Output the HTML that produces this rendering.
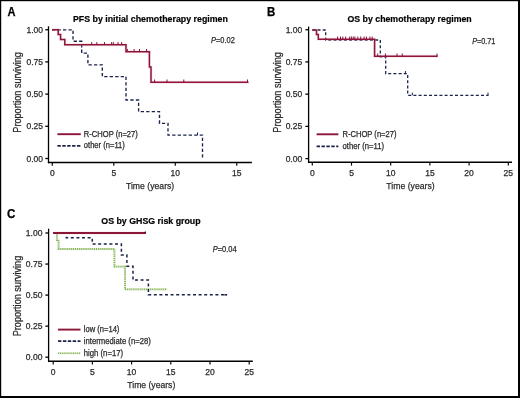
<!DOCTYPE html><html><head><meta charset="utf-8"><style>html,body{margin:0;padding:0;background:#fff;}svg{display:block;font-family:"Liberation Sans",sans-serif;}</style></head><body>
<svg width="520" height="398" viewBox="0 0 520 398">
<defs><filter id="soft" x="0" y="0" width="1" height="1"><feGaussianBlur stdDeviation="0.3"/></filter></defs>
<rect x="0" y="0" width="520" height="398" fill="#fff"/>
<g filter="url(#soft)">
<rect x="0" y="0" width="520" height="398" fill="#fff"/>
<line x1="48.5" y1="26.3" x2="48.5" y2="163.2" stroke="#000" stroke-width="1.3"/>
<line x1="47.9" y1="162.4" x2="251.9" y2="162.4" stroke="#000" stroke-width="1.5"/>
<line x1="45.3" y1="29.7" x2="48.5" y2="29.7" stroke="#000" stroke-width="1.3"/>
<text x="43" y="32.7" font-size="8.5" text-anchor="end" fill="#2a2a2a" stroke="#2a2a2a" stroke-width="0.25">1.00</text>
<line x1="45.3" y1="61.9" x2="48.5" y2="61.9" stroke="#000" stroke-width="1.3"/>
<text x="43" y="64.9" font-size="8.5" text-anchor="end" fill="#2a2a2a" stroke="#2a2a2a" stroke-width="0.25">0.75</text>
<line x1="45.3" y1="94.1" x2="48.5" y2="94.1" stroke="#000" stroke-width="1.3"/>
<text x="43" y="97.1" font-size="8.5" text-anchor="end" fill="#2a2a2a" stroke="#2a2a2a" stroke-width="0.25">0.50</text>
<line x1="45.3" y1="126.3" x2="48.5" y2="126.3" stroke="#000" stroke-width="1.3"/>
<text x="43" y="129.3" font-size="8.5" text-anchor="end" fill="#2a2a2a" stroke="#2a2a2a" stroke-width="0.25">0.25</text>
<line x1="45.3" y1="158.5" x2="48.5" y2="158.5" stroke="#000" stroke-width="1.3"/>
<text x="43" y="161.5" font-size="8.5" text-anchor="end" fill="#2a2a2a" stroke="#2a2a2a" stroke-width="0.25">0.00</text>
<line x1="52.3" y1="162.4" x2="52.3" y2="165.7" stroke="#000" stroke-width="1.15"/>
<text x="52.3" y="176" font-size="8.5" text-anchor="middle" fill="#2a2a2a" stroke="#2a2a2a" stroke-width="0.25">0</text>
<line x1="113.8" y1="162.4" x2="113.8" y2="165.7" stroke="#000" stroke-width="1.15"/>
<text x="113.8" y="176" font-size="8.5" text-anchor="middle" fill="#2a2a2a" stroke="#2a2a2a" stroke-width="0.25">5</text>
<line x1="175.3" y1="162.4" x2="175.3" y2="165.7" stroke="#000" stroke-width="1.15"/>
<text x="175.3" y="176" font-size="8.5" text-anchor="middle" fill="#2a2a2a" stroke="#2a2a2a" stroke-width="0.25">10</text>
<line x1="236.8" y1="162.4" x2="236.8" y2="165.7" stroke="#000" stroke-width="1.15"/>
<text x="236.8" y="176" font-size="8.5" text-anchor="middle" fill="#2a2a2a" stroke="#2a2a2a" stroke-width="0.25">15</text>
<text x="150.1" y="189.2" font-size="9.9" text-anchor="middle" fill="#2a2a2a" textLength="48.3" lengthAdjust="spacingAndGlyphs" stroke="#2a2a2a" stroke-width="0.25">Time (years)</text>
<text x="0" y="0" font-size="10.2" text-anchor="middle" fill="#2a2a2a" stroke="#2a2a2a" stroke-width="0.25" textLength="80.5" lengthAdjust="spacingAndGlyphs" transform="translate(20.5,92.4) rotate(-90)">Proportion surviving</text>
<text x="72.9" y="21.7" font-size="9.5" text-anchor="start" font-weight="bold" fill="#000" textLength="155" lengthAdjust="spacingAndGlyphs" stroke="#000" stroke-width="0.2">PFS by initial chemotherapy regimen</text>
<text x="7.6" y="15.6" font-size="12" text-anchor="start" font-weight="bold" fill="#000" textLength="8" lengthAdjust="spacingAndGlyphs" stroke="#000" stroke-width="0.25">A</text>
<text x="211" y="42.9" font-size="8.3" fill="#2a2a2a" stroke="#2a2a2a" stroke-width="0.25" textLength="23.8" lengthAdjust="spacingAndGlyphs"><tspan font-style="italic">P</tspan>=0.02</text>
<path d="M52,29.8 H73 V41.2 H81.7 V53.1 H87.9 V64.8 H102.3 V76.6 H126 V100 H138.6 V111.6 H159.5 V123.4 H168 V135.1 H202.5 V158.5" fill="none" stroke="#1a2448" stroke-width="1.35" stroke-dasharray="3.3 2.2" stroke-linejoin="miter" stroke-linecap="butt"/>
<line x1="197.5" y1="135.1" x2="197.5" y2="132.4" stroke="#1a2448" stroke-width="1.0"/>
<path d="M52,29.8 H58.2 V34.6 H60.6 V39.6 H64.8 V44.8 H126 V51.7 H149.4 V67 H151 V82.2 H248.5" fill="none" stroke="#f0aabb" stroke-width="3.0" stroke-opacity="0.3" stroke-linejoin="miter"/><path d="M52,29.8 H58.2 V34.6 H60.6 V39.6 H64.8 V44.8 H126 V51.7 H149.4 V67 H151 V82.2 H248.5" fill="none" stroke="#8c1238" stroke-width="1.5"  stroke-linejoin="miter" stroke-linecap="butt"/>
<line x1="91.7" y1="44.8" x2="91.7" y2="42.1" stroke="#8c1238" stroke-width="1.0"/><line x1="96.8" y1="44.8" x2="96.8" y2="42.1" stroke="#8c1238" stroke-width="1.0"/><line x1="104.5" y1="44.8" x2="104.5" y2="42.1" stroke="#8c1238" stroke-width="1.0"/><line x1="111.6" y1="44.8" x2="111.6" y2="42.1" stroke="#8c1238" stroke-width="1.0"/><line x1="113.3" y1="44.8" x2="113.3" y2="42.1" stroke="#8c1238" stroke-width="1.0"/><line x1="118" y1="44.8" x2="118" y2="42.1" stroke="#8c1238" stroke-width="1.0"/><line x1="121.6" y1="44.8" x2="121.6" y2="42.1" stroke="#8c1238" stroke-width="1.0"/>
<line x1="127.4" y1="51.7" x2="127.4" y2="49" stroke="#8c1238" stroke-width="1.0"/><line x1="134.1" y1="51.7" x2="134.1" y2="49" stroke="#8c1238" stroke-width="1.0"/><line x1="139.5" y1="51.7" x2="139.5" y2="49" stroke="#8c1238" stroke-width="1.0"/><line x1="146.6" y1="51.7" x2="146.6" y2="49" stroke="#8c1238" stroke-width="1.0"/>
<line x1="154.6" y1="82.2" x2="154.6" y2="79.5" stroke="#8c1238" stroke-width="1.0"/><line x1="167" y1="82.2" x2="167" y2="79.5" stroke="#8c1238" stroke-width="1.0"/><line x1="183.8" y1="82.2" x2="183.8" y2="79.5" stroke="#8c1238" stroke-width="1.0"/><line x1="247.5" y1="82.2" x2="247.5" y2="79.5" stroke="#8c1238" stroke-width="1.0"/>
<line x1="57.4" y1="134.2" x2="80.8" y2="134.2" stroke="#8c1238" stroke-width="1.9" />
<text x="83.8" y="136.5" font-size="8.3" text-anchor="start" fill="#2a2a2a" textLength="54" lengthAdjust="spacingAndGlyphs" stroke="#2a2a2a" stroke-width="0.25">R-CHOP (n=27)</text>
<line x1="57.4" y1="145.8" x2="80.8" y2="145.8" stroke="#1a2448" stroke-width="1.7" stroke-dasharray="3.4 1.5"/>
<text x="83.8" y="148.1" font-size="8.3" text-anchor="start" fill="#2a2a2a" textLength="41" lengthAdjust="spacingAndGlyphs" stroke="#2a2a2a" stroke-width="0.25">other (n=11)</text>
<line x1="308.6" y1="26.6" x2="308.6" y2="163.1" stroke="#000" stroke-width="1.3"/>
<line x1="308" y1="162.3" x2="512" y2="162.3" stroke="#000" stroke-width="1.5"/>
<line x1="305.4" y1="29.7" x2="308.6" y2="29.7" stroke="#000" stroke-width="1.3"/>
<text x="302.2" y="32.7" font-size="8.5" text-anchor="end" fill="#2a2a2a" stroke="#2a2a2a" stroke-width="0.25">1.00</text>
<line x1="305.4" y1="61.92" x2="308.6" y2="61.92" stroke="#000" stroke-width="1.3"/>
<text x="302.2" y="64.92" font-size="8.5" text-anchor="end" fill="#2a2a2a" stroke="#2a2a2a" stroke-width="0.25">0.75</text>
<line x1="305.4" y1="94.15" x2="308.6" y2="94.15" stroke="#000" stroke-width="1.3"/>
<text x="302.2" y="97.15" font-size="8.5" text-anchor="end" fill="#2a2a2a" stroke="#2a2a2a" stroke-width="0.25">0.50</text>
<line x1="305.4" y1="126.38" x2="308.6" y2="126.38" stroke="#000" stroke-width="1.3"/>
<text x="302.2" y="129.38" font-size="8.5" text-anchor="end" fill="#2a2a2a" stroke="#2a2a2a" stroke-width="0.25">0.25</text>
<line x1="305.4" y1="158.6" x2="308.6" y2="158.6" stroke="#000" stroke-width="1.3"/>
<text x="302.2" y="161.6" font-size="8.5" text-anchor="end" fill="#2a2a2a" stroke="#2a2a2a" stroke-width="0.25">0.00</text>
<line x1="312.3" y1="162.3" x2="312.3" y2="165.6" stroke="#000" stroke-width="1.15"/>
<text x="312.3" y="176" font-size="8.5" text-anchor="middle" fill="#2a2a2a" stroke="#2a2a2a" stroke-width="0.25">0</text>
<line x1="351.5" y1="162.3" x2="351.5" y2="165.6" stroke="#000" stroke-width="1.15"/>
<text x="351.5" y="176" font-size="8.5" text-anchor="middle" fill="#2a2a2a" stroke="#2a2a2a" stroke-width="0.25">5</text>
<line x1="390.7" y1="162.3" x2="390.7" y2="165.6" stroke="#000" stroke-width="1.15"/>
<text x="390.7" y="176" font-size="8.5" text-anchor="middle" fill="#2a2a2a" stroke="#2a2a2a" stroke-width="0.25">10</text>
<line x1="429.9" y1="162.3" x2="429.9" y2="165.6" stroke="#000" stroke-width="1.15"/>
<text x="429.9" y="176" font-size="8.5" text-anchor="middle" fill="#2a2a2a" stroke="#2a2a2a" stroke-width="0.25">15</text>
<line x1="469.1" y1="162.3" x2="469.1" y2="165.6" stroke="#000" stroke-width="1.15"/>
<text x="469.1" y="176" font-size="8.5" text-anchor="middle" fill="#2a2a2a" stroke="#2a2a2a" stroke-width="0.25">20</text>
<line x1="508.3" y1="162.3" x2="508.3" y2="165.6" stroke="#000" stroke-width="1.15"/>
<text x="508.3" y="176" font-size="8.5" text-anchor="middle" fill="#2a2a2a" stroke="#2a2a2a" stroke-width="0.25">25</text>
<text x="410.5" y="189.2" font-size="9.9" text-anchor="middle" fill="#2a2a2a" textLength="48.3" lengthAdjust="spacingAndGlyphs" stroke="#2a2a2a" stroke-width="0.25">Time (years)</text>
<text x="0" y="0" font-size="10.2" text-anchor="middle" fill="#2a2a2a" stroke="#2a2a2a" stroke-width="0.25" textLength="80.5" lengthAdjust="spacingAndGlyphs" transform="translate(280.5,92.4) rotate(-90)">Proportion surviving</text>
<text x="347.5" y="21.8" font-size="9.5" text-anchor="start" font-weight="bold" fill="#000" textLength="124.2" lengthAdjust="spacingAndGlyphs" stroke="#000" stroke-width="0.2">OS by chemotherapy regimen</text>
<text x="267" y="15.6" font-size="12" text-anchor="start" font-weight="bold" fill="#000" textLength="8.3" lengthAdjust="spacingAndGlyphs" stroke="#000" stroke-width="0.25">B</text>
<text x="472.2" y="43.5" font-size="8.3" fill="#2a2a2a" stroke="#2a2a2a" stroke-width="0.25" textLength="23.2" lengthAdjust="spacingAndGlyphs"><tspan font-style="italic">P</tspan>=0.71</text>
<path d="M312.3,30 H325.7 V40 H380.3 V56.8 H385.7 V73.7 H407.7 V95.3 H488.5" fill="none" stroke="#1a2448" stroke-width="1.3" stroke-dasharray="3.0 2.2" stroke-linejoin="miter" stroke-linecap="butt"/>
<line x1="405.4" y1="73.7" x2="405.4" y2="71" stroke="#1a2448" stroke-width="1.0"/>
<line x1="412.3" y1="95.3" x2="412.3" y2="92.6" stroke="#1a2448" stroke-width="1.0"/><line x1="488" y1="95.3" x2="488" y2="92.6" stroke="#1a2448" stroke-width="1.0"/>
<path d="M312.3,30 H316.5 V34.6 H318.3 V39.2 H374.6 V56.2 H437.7" fill="none" stroke="#f0aabb" stroke-width="3.0" stroke-opacity="0.3" stroke-linejoin="miter"/><path d="M312.3,30 H316.5 V34.6 H318.3 V39.2 H374.6 V56.2 H437.7" fill="none" stroke="#8c1238" stroke-width="1.5"  stroke-linejoin="miter" stroke-linecap="butt"/>
<line x1="337.6" y1="39.2" x2="337.6" y2="36.5" stroke="#8c1238" stroke-width="1.0"/><line x1="340.5" y1="39.2" x2="340.5" y2="36.5" stroke="#8c1238" stroke-width="1.0"/><line x1="342.8" y1="39.2" x2="342.8" y2="36.5" stroke="#8c1238" stroke-width="1.0"/><line x1="345.7" y1="39.2" x2="345.7" y2="36.5" stroke="#8c1238" stroke-width="1.0"/><line x1="349.7" y1="39.2" x2="349.7" y2="36.5" stroke="#8c1238" stroke-width="1.0"/><line x1="351.4" y1="39.2" x2="351.4" y2="36.5" stroke="#8c1238" stroke-width="1.0"/><line x1="353.2" y1="39.2" x2="353.2" y2="36.5" stroke="#8c1238" stroke-width="1.0"/><line x1="354.9" y1="39.2" x2="354.9" y2="36.5" stroke="#8c1238" stroke-width="1.0"/><line x1="357.8" y1="39.2" x2="357.8" y2="36.5" stroke="#8c1238" stroke-width="1.0"/><line x1="360.7" y1="39.2" x2="360.7" y2="36.5" stroke="#8c1238" stroke-width="1.0"/><line x1="364.1" y1="39.2" x2="364.1" y2="36.5" stroke="#8c1238" stroke-width="1.0"/><line x1="366.4" y1="39.2" x2="366.4" y2="36.5" stroke="#8c1238" stroke-width="1.0"/><line x1="369.9" y1="39.2" x2="369.9" y2="36.5" stroke="#8c1238" stroke-width="1.0"/><line x1="372.2" y1="39.2" x2="372.2" y2="36.5" stroke="#8c1238" stroke-width="1.0"/>
<line x1="377.7" y1="56.2" x2="377.7" y2="53.5" stroke="#8c1238" stroke-width="1.0"/><line x1="385.4" y1="56.2" x2="385.4" y2="53.5" stroke="#8c1238" stroke-width="1.0"/><line x1="397" y1="56.2" x2="397" y2="53.5" stroke="#8c1238" stroke-width="1.0"/><line x1="402.3" y1="56.2" x2="402.3" y2="53.5" stroke="#8c1238" stroke-width="1.0"/><line x1="437" y1="56.2" x2="437" y2="53.5" stroke="#8c1238" stroke-width="1.0"/>
<line x1="316.6" y1="134.3" x2="338.4" y2="134.3" stroke="#8c1238" stroke-width="1.9" />
<text x="342.5" y="136.6" font-size="8.3" text-anchor="start" fill="#2a2a2a" textLength="54" lengthAdjust="spacingAndGlyphs" stroke="#2a2a2a" stroke-width="0.25">R-CHOP (n=27)</text>
<line x1="316.6" y1="146.3" x2="338.4" y2="146.3" stroke="#1a2448" stroke-width="1.7" stroke-dasharray="3.4 1.5"/>
<text x="342.5" y="148.6" font-size="8.3" text-anchor="start" fill="#2a2a2a" textLength="41.5" lengthAdjust="spacingAndGlyphs" stroke="#2a2a2a" stroke-width="0.25">other (n=11)</text>
<line x1="48.6" y1="228.7" x2="48.6" y2="362" stroke="#000" stroke-width="1.3"/>
<line x1="48" y1="361.2" x2="252.8" y2="361.2" stroke="#000" stroke-width="1.5"/>
<line x1="45.4" y1="233" x2="48.6" y2="233" stroke="#000" stroke-width="1.3"/>
<text x="42.4" y="236" font-size="8.5" text-anchor="end" fill="#2a2a2a" stroke="#2a2a2a" stroke-width="0.25">1.00</text>
<line x1="45.4" y1="264.05" x2="48.6" y2="264.05" stroke="#000" stroke-width="1.3"/>
<text x="42.4" y="267.05" font-size="8.5" text-anchor="end" fill="#2a2a2a" stroke="#2a2a2a" stroke-width="0.25">0.75</text>
<line x1="45.4" y1="295.1" x2="48.6" y2="295.1" stroke="#000" stroke-width="1.3"/>
<text x="42.4" y="298.1" font-size="8.5" text-anchor="end" fill="#2a2a2a" stroke="#2a2a2a" stroke-width="0.25">0.50</text>
<line x1="45.4" y1="326.15" x2="48.6" y2="326.15" stroke="#000" stroke-width="1.3"/>
<text x="42.4" y="329.15" font-size="8.5" text-anchor="end" fill="#2a2a2a" stroke="#2a2a2a" stroke-width="0.25">0.25</text>
<line x1="45.4" y1="357.2" x2="48.6" y2="357.2" stroke="#000" stroke-width="1.3"/>
<text x="42.4" y="360.2" font-size="8.5" text-anchor="end" fill="#2a2a2a" stroke="#2a2a2a" stroke-width="0.25">0.00</text>
<line x1="53.2" y1="361.2" x2="53.2" y2="364.5" stroke="#000" stroke-width="1.15"/>
<text x="53.2" y="375.2" font-size="8.5" text-anchor="middle" fill="#2a2a2a" stroke="#2a2a2a" stroke-width="0.25">0</text>
<line x1="92.4" y1="361.2" x2="92.4" y2="364.5" stroke="#000" stroke-width="1.15"/>
<text x="92.4" y="375.2" font-size="8.5" text-anchor="middle" fill="#2a2a2a" stroke="#2a2a2a" stroke-width="0.25">5</text>
<line x1="131.6" y1="361.2" x2="131.6" y2="364.5" stroke="#000" stroke-width="1.15"/>
<text x="131.6" y="375.2" font-size="8.5" text-anchor="middle" fill="#2a2a2a" stroke="#2a2a2a" stroke-width="0.25">10</text>
<line x1="170.8" y1="361.2" x2="170.8" y2="364.5" stroke="#000" stroke-width="1.15"/>
<text x="170.8" y="375.2" font-size="8.5" text-anchor="middle" fill="#2a2a2a" stroke="#2a2a2a" stroke-width="0.25">15</text>
<line x1="210" y1="361.2" x2="210" y2="364.5" stroke="#000" stroke-width="1.15"/>
<text x="210" y="375.2" font-size="8.5" text-anchor="middle" fill="#2a2a2a" stroke="#2a2a2a" stroke-width="0.25">20</text>
<line x1="249.2" y1="361.2" x2="249.2" y2="364.5" stroke="#000" stroke-width="1.15"/>
<text x="249.2" y="375.2" font-size="8.5" text-anchor="middle" fill="#2a2a2a" stroke="#2a2a2a" stroke-width="0.25">25</text>
<text x="151.3" y="387.8" font-size="9.9" text-anchor="middle" fill="#2a2a2a" textLength="48" lengthAdjust="spacingAndGlyphs" stroke="#2a2a2a" stroke-width="0.25">Time (years)</text>
<text x="0" y="0" font-size="10.2" text-anchor="middle" fill="#2a2a2a" stroke="#2a2a2a" stroke-width="0.25" textLength="80.5" lengthAdjust="spacingAndGlyphs" transform="translate(20.5,296) rotate(-90)">Proportion surviving</text>
<text x="101.3" y="223.6" font-size="9.5" text-anchor="start" font-weight="bold" fill="#000" textLength="99.3" lengthAdjust="spacingAndGlyphs" stroke="#000" stroke-width="0.2">OS by GHSG risk group</text>
<text x="7" y="217.8" font-size="12" text-anchor="start" font-weight="bold" fill="#000" textLength="8.4" lengthAdjust="spacingAndGlyphs" stroke="#000" stroke-width="0.25">C</text>
<text x="212.8" y="252.2" font-size="8.3" fill="#2a2a2a" stroke="#2a2a2a" stroke-width="0.25" textLength="23.8" lengthAdjust="spacingAndGlyphs"><tspan font-style="italic">P</tspan>=0.04</text>
<path d="M53.2,233 H57 V240.2 H58.6 V249 H114.4 V266.6 H125 V289.3 H167.1" fill="none" stroke="#dcebc8" stroke-width="2" stroke-linejoin="miter"/><path d="M53.2,233 H57 V240.2 H58.6 V249 H114.4 V266.6 H125 V289.3 H167.1" fill="none" stroke="#86b05a" stroke-width="1.8" stroke-dasharray="1 1.1" stroke-linejoin="miter" stroke-linecap="butt"/>
<path d="M53.2,233 H66.3 V237.8 H92.3 V244 H121.4 V255 H126.9 V266.3 H133 V280 H148.4 V294.8 H227.1" fill="none" stroke="#1a2448" stroke-width="1.5" stroke-dasharray="3.0 2.6" stroke-linejoin="miter" stroke-linecap="butt"/>
<path d="M224.3,294.8 H227.1" fill="none" stroke="#1a2448" stroke-width="1.5"  stroke-linejoin="miter" stroke-linecap="butt"/>
<path d="M53.2,233 H145.9" fill="none" stroke="#f0aabb" stroke-width="3.0" stroke-opacity="0.3" stroke-linejoin="miter"/><path d="M53.2,233 H145.9" fill="none" stroke="#8c1238" stroke-width="1.8"  stroke-linejoin="miter" stroke-linecap="butt"/>
<line x1="145.3" y1="233" x2="145.3" y2="231.4" stroke="#3a0a18" stroke-width="1.2"/>
<line x1="58" y1="329.6" x2="80.5" y2="329.6" stroke="#8c1238" stroke-width="1.9" />
<text x="83.8" y="331.9" font-size="8.3" text-anchor="start" fill="#2a2a2a" textLength="35.6" lengthAdjust="spacingAndGlyphs" stroke="#2a2a2a" stroke-width="0.25">low (n=14)</text>
<line x1="58" y1="341.2" x2="80.5" y2="341.2" stroke="#1a2448" stroke-width="1.7" stroke-dasharray="3.4 1.5"/>
<text x="83.8" y="343.5" font-size="8.3" text-anchor="start" fill="#2a2a2a" textLength="67" lengthAdjust="spacingAndGlyphs" stroke="#2a2a2a" stroke-width="0.25">intermediate (n=28)</text>
<line x1="58" y1="353.3" x2="80.5" y2="353.3" stroke="#dcebc8" stroke-width="2"/>
<line x1="58" y1="353.3" x2="80.5" y2="353.3" stroke="#86b05a" stroke-width="1.5" stroke-dasharray="1 1.1"/>
<text x="83.8" y="355.6" font-size="8.3" text-anchor="start" fill="#2a2a2a" textLength="39.3" lengthAdjust="spacingAndGlyphs" stroke="#2a2a2a" stroke-width="0.25">high (n=17)</text>
</g>
<rect x="0.6" y="0.6" width="518.2" height="396.2" fill="none" stroke="#000" stroke-width="1.2"/>
<line x1="519" y1="0" x2="519" y2="398" stroke="#000" stroke-width="2"/>
<line x1="0" y1="397" x2="520" y2="397" stroke="#000" stroke-width="2"/>
</svg></body></html>
